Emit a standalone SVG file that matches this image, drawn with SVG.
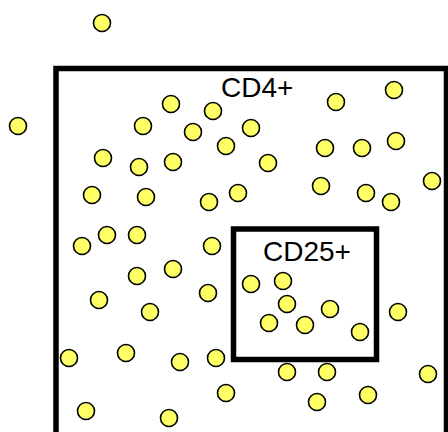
<svg xmlns="http://www.w3.org/2000/svg" width="448" height="432" viewBox="0 0 448 432">
<style>
.cell{fill:#ffff66;stroke:#000;stroke-width:1.6}
.box{fill:none;stroke:#000;stroke-width:5.5}
.lbl{font-family:"Liberation Sans",Arial,sans-serif;font-size:28px;fill:#000}
</style>
<rect width="448" height="432" fill="#fff"/>
<g id="cd4-box">
<path class="box" d="M56,440 V68.5 H446.5 V440"/>
<text class="lbl" x="221" y="97">CD4+</text>
</g>
<g id="cd25-box">
<rect class="box" x="233.5" y="229" width="143" height="130.5"/>
<text class="lbl" x="263" y="260.5">CD25+</text>
</g>
<g id="connectors"></g>
<g id="cells">
<circle class="cell" cx="102" cy="23" r="8.5"/>
<circle class="cell" cx="18" cy="126" r="8.5"/>
<circle class="cell" cx="171" cy="104" r="8.5"/>
<circle class="cell" cx="213" cy="111" r="8.5"/>
<circle class="cell" cx="143" cy="126" r="8.5"/>
<circle class="cell" cx="193" cy="132" r="8.5"/>
<circle class="cell" cx="226" cy="146" r="8.5"/>
<circle class="cell" cx="103" cy="158" r="8.5"/>
<circle class="cell" cx="139" cy="167" r="8.5"/>
<circle class="cell" cx="173" cy="162" r="8.5"/>
<circle class="cell" cx="92" cy="195" r="8.5"/>
<circle class="cell" cx="146" cy="197" r="8.5"/>
<circle class="cell" cx="209" cy="202" r="8.5"/>
<circle class="cell" cx="336" cy="102" r="8.5"/>
<circle class="cell" cx="394" cy="90" r="8.5"/>
<circle class="cell" cx="251" cy="128" r="8.5"/>
<circle class="cell" cx="268" cy="163" r="8.5"/>
<circle class="cell" cx="325" cy="148" r="8.5"/>
<circle class="cell" cx="362" cy="148" r="8.5"/>
<circle class="cell" cx="396" cy="141" r="8.5"/>
<circle class="cell" cx="238" cy="193" r="8.5"/>
<circle class="cell" cx="321" cy="186" r="8.5"/>
<circle class="cell" cx="366" cy="193" r="8.5"/>
<circle class="cell" cx="391" cy="202" r="8.5"/>
<circle class="cell" cx="432" cy="181" r="8.5"/>
<circle class="cell" cx="82" cy="246" r="8.5"/>
<circle class="cell" cx="107" cy="235" r="8.5"/>
<circle class="cell" cx="137" cy="235" r="8.5"/>
<circle class="cell" cx="212" cy="246" r="8.5"/>
<circle class="cell" cx="137" cy="276" r="8.5"/>
<circle class="cell" cx="173" cy="269" r="8.5"/>
<circle class="cell" cx="208" cy="293" r="8.5"/>
<circle class="cell" cx="99" cy="300" r="8.5"/>
<circle class="cell" cx="150" cy="312" r="8.5"/>
<circle class="cell" cx="69" cy="358" r="8.5"/>
<circle class="cell" cx="126" cy="353" r="8.5"/>
<circle class="cell" cx="180" cy="362" r="8.5"/>
<circle class="cell" cx="216" cy="358" r="8.5"/>
<circle class="cell" cx="226" cy="393" r="8.5"/>
<circle class="cell" cx="86" cy="411" r="8.5"/>
<circle class="cell" cx="169" cy="418" r="8.5"/>
<circle class="cell" cx="251" cy="284" r="8.5"/>
<circle class="cell" cx="283" cy="281" r="8.5"/>
<circle class="cell" cx="287" cy="304" r="8.5"/>
<circle class="cell" cx="269" cy="323" r="8.5"/>
<circle class="cell" cx="305" cy="325" r="8.5"/>
<circle class="cell" cx="330" cy="309" r="8.5"/>
<circle class="cell" cx="360" cy="332" r="8.5"/>
<circle class="cell" cx="398" cy="312" r="8.5"/>
<circle class="cell" cx="287" cy="372" r="8.5"/>
<circle class="cell" cx="327" cy="372" r="8.5"/>
<circle class="cell" cx="428" cy="374" r="8.5"/>
<circle class="cell" cx="317" cy="402" r="8.5"/>
<circle class="cell" cx="368" cy="395" r="8.5"/>
</g>
</svg>
